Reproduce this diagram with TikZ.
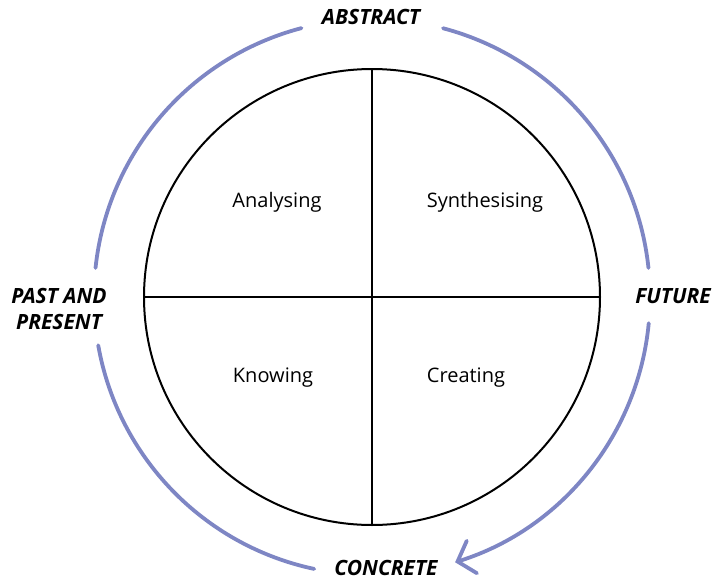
\documentclass[tikz,border=0pt]{standalone}
\usepackage{fontspec}
\setmainfont{Open Sans}
\usetikzlibrary{arrows.meta}
\definecolor{lav}{RGB}{126,134,196}
\begin{document}
\begin{tikzpicture}[x=1pt,y=-1pt,
  quad/.style={font=\fontsize{20}{24}\selectfont},
  side/.style={font=\fontsize{21}{26}\selectfont\bfseries\itshape, align=center},
  flow/.style={draw=lav, line width=3.8pt, line cap=round}]
\useasboundingbox (0,0) rectangle (713,581);
\coordinate (c) at (372,297);
\draw[line width=2pt] (c) circle[radius=228];
\coordinate (top) at (372,69);
\coordinate (bot) at (372,525);
\coordinate (lft) at (144,297);
\coordinate (rgt) at (600,297);
\draw[line width=2pt] (top) -- (bot);
\draw[line width=2pt] (lft) -- (rgt);
\node[quad] (an) at (277,202) {Analysing};
\node[quad] (sy) at (485,202) {Synthesising};
\node[quad] (kn) at (273,378) {Knowing};
\node[quad] (cr) at (466,378) {Creating};
\node[side] (ab) at (371,17) {ABSTRACT};
\node[side] (pp) at (59,309) {PAST AND\\PRESENT};
\node[side] (fu) at (673,296) {FUTURE};
\node[side] (co) at (386,568) {CONCRETE};
\draw[flow] ([shift={(-104.7:278)}]c) arc[start angle=-104.7, end angle=-174, radius=278];
\draw[flow] ([shift={(-190:278)}]c) arc[start angle=-190, end angle=-258, radius=278];
\draw[flow] ([shift={(-75.2:278)}]c) arc[start angle=-75.2, end angle=-6, radius=278];
\draw[flow, -{Straight Barb[length=15pt,width=34pt,line cap=round]}] ([shift={(5.4:278)}]c) arc[start angle=5.4, end angle=72.6, radius=278];
\end{tikzpicture}
\end{document}
